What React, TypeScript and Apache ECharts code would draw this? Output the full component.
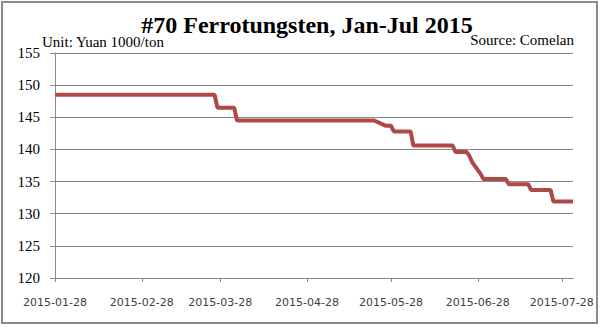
import React, { useEffect, useRef } from "react";
import * as echarts from "echarts";

const titleText = "#70 Ferrotungsten, Jan-Jul 2015";
const unitText = "Unit: Yuan 1000/ton";
const sourceText = "Source: Comelan";

const dates = [
  "2015-01-28", "2015-03-26", "2015-03-27", "2015-04-02", "2015-04-03",
  "2015-05-22", "2015-05-26", "2015-05-28", "2015-05-29", "2015-06-04",
  "2015-06-05", "2015-06-19", "2015-06-20", "2015-06-24", "2015-06-25",
  "2015-06-26", "2015-06-29", "2015-06-30", "2015-07-08", "2015-07-09",
  "2015-07-16", "2015-07-17", "2015-07-24", "2015-07-25", "2015-08-01",
];
const prices = [
  148.5, 148.5, 146.5, 146.5, 144.5,
  144.5, 143.7, 143.7, 142.8, 142.8,
  140.6, 140.6, 139.6, 139.6, 139.0,
  138.0, 136.2, 135.4, 135.4, 134.6,
  134.6, 133.7, 133.7, 131.9, 131.9,
];
const xTickDates = [
  "2015-01-28", "2015-02-28", "2015-03-28", "2015-04-28",
  "2015-05-28", "2015-06-28", "2015-07-28",
];
const xMinDate = "2015-01-28";
const xMaxDate = "2015-08-01";
const yMin = 120;
const yMax = 155;
const yStep = 5;

const toMs = (s: string) => {
  const [y, m, d] = s.split("-").map(Number);
  return Date.UTC(y, m - 1, d);
};
const fmt = (ms: number) => {
  const d = new Date(ms);
  const p = (n: number) => (n < 10 ? "0" + n : "" + n);
  return d.getUTCFullYear() + "-" + p(d.getUTCMonth() + 1) + "-" + p(d.getUTCDate());
};

export default function App() {
  const ref = useRef<HTMLDivElement>(null);
  useEffect(() => {
    if (!ref.current) return;
    const chart = echarts.init(ref.current, undefined, { renderer: "svg" });
    const tickMs = xTickDates.map(toMs);
    chart.setOption({
      animation: false,
      backgroundColor: "#ffffff",
      grid: { left: 55, right: 30, top: 53, bottom: 49, containLabel: false },
      xAxis: {
        type: "value",
        min: toMs(xMinDate),
        max: toMs(xMaxDate),
        axisLine: { show: true, onZero: false, lineStyle: { color: "#8a8a8a", width: 1 } },
        axisTick: { show: true, length: 4, customValues: tickMs, lineStyle: { color: "#8a8a8a" } },
        axisLabel: {
          customValues: tickMs,
          formatter: (v: number) => fmt(v),
          fontFamily: "DejaVu Sans",
          fontSize: 11,
          color: "#404040",
          margin: 19,
          showMinLabel: true,
          showMaxLabel: true,
        },
        splitLine: { show: false },
      },
      yAxis: {
        type: "value",
        min: yMin,
        max: yMax,
        interval: yStep,
        axisLine: { show: true, lineStyle: { color: "#8a8a8a", width: 1 } },
        axisTick: { show: true, length: 5, lineStyle: { color: "#8a8a8a" } },
        axisLabel: {
          fontFamily: "Liberation Serif",
          fontSize: 15,
          color: "#000000",
          margin: 15,
        },
        splitLine: { show: true, lineStyle: { color: "#8a8a8a", width: 1 } },
      },
      series: [
        {
          type: "line",
          data: dates.map((d, i) => [toMs(d), prices[i]]),
          showSymbol: false,
          symbol: "none",
          lineStyle: { color: "#b04848", width: 4 },
          itemStyle: { color: "#b04848" },
        },
      ],
      graphic: [
        {
          type: "rect",
          shape: { x: 2, y: 2, width: 595, height: 321 },
          style: { fill: "none", stroke: "#8a8a8a", lineWidth: 2 },
          silent: true,
        },
        {
          type: "text",
          x: 307,
          y: 25,
          style: {
            text: titleText,
            font: "bold 24px 'Liberation Serif'",
            fill: "#000000",
            align: "center",
            verticalAlign: "middle",
          },
        },
        {
          type: "text",
          x: 42,
          y: 42,
          style: {
            text: unitText,
            font: "15px 'Liberation Serif'",
            fill: "#000000",
            align: "left",
            verticalAlign: "middle",
          },
        },
        {
          type: "text",
          x: 574,
          y: 40,
          style: {
            text: sourceText,
            font: "15px 'Liberation Serif'",
            fill: "#000000",
            align: "right",
            verticalAlign: "middle",
          },
        },
      ],
    });
    return () => chart.dispose();
  }, []);
  return (
    <div style={{ position: "absolute", left: 0, top: 0, width: 603, height: 327, background: "#fff" }}>
      <div ref={ref} style={{ width: 603, height: 327 }} />
    </div>
  );
}
